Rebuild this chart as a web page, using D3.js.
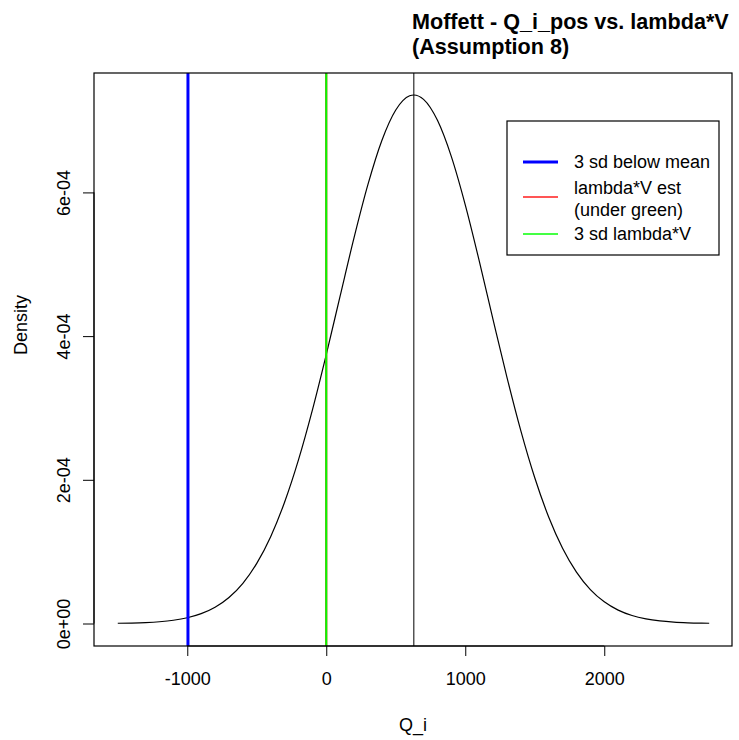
<!DOCTYPE html>
<html>
<head>
<meta charset="utf-8">
<script src="https://cdn.jsdelivr.net/npm/d3@7"></script>
<style>
  html, body { margin: 0; padding: 0; background: #ffffff; }
  svg { display: block; font-family: "Liberation Sans", Arial, sans-serif; }
</style>
</head>
<body>
<svg id="chart" width="739" height="740"></svg>
<script>
// Estimated normal density of Q_i (x value, density)
const qValues = [-1500, -1400, -1300, -1200, -1100, -1000, -900, -800, -700, -600,
  -500, -400, -300, -200, -100, 0, 100, 200, 300, 400, 500, 600, 630, 700, 800, 900,
  1000, 1100, 1200, 1300, 1400, 1500, 1600, 1700, 1800, 1900, 2000, 2100, 2200,
  2300, 2400, 2500, 2600, 2700, 2755];
const densityValues = [3.3e-7, 6.6e-7, 1.3e-6, 2.46e-6, 4.51e-6, 8.0e-6, 1.369e-5,
  2.266e-5, 3.623e-5, 5.601e-5, 8.371e-5, 1.209e-4, 1.688e-4, 2.277e-4, 2.970e-4,
  3.743e-4, 4.560e-4, 5.370e-4, 6.111e-4, 6.723e-4, 7.147e-4, 7.345e-4, 7.356e-4,
  7.295e-4, 7.003e-4, 6.498e-4, 5.827e-4, 5.051e-4, 4.231e-4, 3.426e-4, 2.681e-4,
  2.028e-4, 1.483e-4, 1.048e-4, 7.157e-5, 4.725e-5, 3.015e-5, 1.859e-5, 1.108e-5,
  6.39e-6, 3.55e-6, 1.91e-6, 9.95e-7, 5.0e-7, 3.3e-7];

// Reference lines
const meanQ = 630;            // mean of Q_i
const threeSdBelow = -995;    // 3 sd below mean
const lambdaVEst = 0;         // lambda*V estimate
const threeSdLambdaV = 0;     // 3 sd lambda*V

// Axis ticks
const xTicks = [-1000, 0, 1000, 2000];
const yTicks = [0, 2e-4, 4e-4, 6e-4];
const yTickLabels = ["0e+00", "2e-04", "4e-04", "6e-04"];

// Legend
const legendLabels = [["3 sd below mean"], ["lambda*V est", "(under green)"], ["3 sd lambda*V"]];
const legendColors = ["#0000ff", "#ff5555", "#44ff44"];

const titleLines = ["Moffett - Q_i_pos vs. lambda*V", "(Assumption 8)"];

const svg = d3.select("#chart");
const plot = { left: 94, right: 732, top: 73, bottom: 646 };

const x = d3.scaleLinear().domain([-1671, 2919]).range([plot.left, plot.right]);
const y = d3.scaleLinear().domain([-3.13e-5, 7.662e-4]).range([plot.bottom, plot.top]);

const baseFont = 18;

// density curve
const pts = qValues.map((q, i) => [q, densityValues[i]]);
svg.append("path")
  .datum(pts)
  .attr("fill", "none")
  .attr("stroke", "#000")
  .attr("stroke-width", 1.2)
  .attr("d", d3.line().x(d => x(d[0])).y(d => y(d[1])).curve(d3.curveMonotoneX));

// vertical reference lines
function vline(v, color, w) {
  svg.append("line")
    .attr("x1", x(v)).attr("x2", x(v))
    .attr("y1", plot.top).attr("y2", plot.bottom)
    .attr("stroke", color).attr("stroke-width", w);
}
vline(meanQ, "#000", 1);
vline(threeSdBelow, "#0000ff", 3);
vline(lambdaVEst, "#ff0000", 2);
vline(threeSdLambdaV, "#00ff00", 2);

// plot box
svg.append("rect")
  .attr("x", plot.left).attr("y", plot.top)
  .attr("width", plot.right - plot.left).attr("height", plot.bottom - plot.top)
  .attr("fill", "none").attr("stroke", "#000").attr("stroke-width", 1.2);

// x axis
const xAxis = d3.axisBottom(x).tickValues(xTicks).tickSize(10).tickPadding(16)
  .tickFormat(d3.format("d"));
const gx = svg.append("g").attr("transform", `translate(0,${plot.bottom})`).call(xAxis);
gx.select(".domain").attr("d", `M${x(xTicks[0])},0H${x(xTicks[xTicks.length - 1])}`);
gx.selectAll("text").attr("font-size", baseFont).attr("font-family", "Liberation Sans, Arial, sans-serif")
  .attr("fill", "#000").text(d => d < 0 ? "-" + Math.abs(d) : d);

// y axis
const yAxis = d3.axisLeft(y).tickValues(yTicks).tickSize(11)
  .tickFormat((d, i) => yTickLabels[i]);
const gy = svg.append("g").attr("transform", `translate(${plot.left},0)`).call(yAxis);
gy.select(".domain").attr("d", `M0,${y(yTicks[0])}V${y(yTicks[yTicks.length - 1])}`);
gy.selectAll(".tick text")
  .attr("font-size", baseFont).attr("font-family", "Liberation Sans, Arial, sans-serif")
  .attr("fill", "#000")
  .attr("x", 0).attr("dy", "0.35em")
  .attr("text-anchor", "middle")
  .attr("transform", "translate(-30,0) rotate(-90)");

// axis titles
svg.append("text").attr("x", 413).attr("y", 725).attr("dy", "0.35em")
  .attr("text-anchor", "middle").attr("font-size", baseFont).text("Q_i");
svg.append("text").attr("transform", "translate(21,325) rotate(-90)").attr("dy", "0.35em")
  .attr("text-anchor", "middle").attr("font-size", baseFont).text("Density");

// title
svg.append("text").attr("x", 412).attr("y", 29)
  .attr("font-size", 21.6).attr("font-weight", "bold")
  .selectAll("tspan").data(titleLines).join("tspan")
  .attr("x", 412).attr("dy", (d, i) => i === 0 ? 0 : 25).text(d => d);

// legend
const legend = svg.append("g");
legend.append("rect").attr("x", 507).attr("y", 121).attr("width", 212).attr("height", 134)
  .attr("fill", "#fff").attr("stroke", "#000").attr("stroke-width", 1.2);
const rowText = [[162], [187.6, 209.5], [234]];
const rowLine = [162, 197, 234];
const rowWidth = [3, 2, 2];
legendLabels.forEach((lines, i) => {
  legend.append("line").attr("x1", 523).attr("x2", 558)
    .attr("y1", rowLine[i]).attr("y2", rowLine[i])
    .attr("stroke", legendColors[i]).attr("stroke-width", rowWidth[i]);
  lines.forEach((t, j) => {
    legend.append("text").attr("x", 574).attr("y", rowText[i][j]).attr("dy", "0.35em")
      .attr("font-size", baseFont).text(t);
  });
});
</script>
</body>
</html>
